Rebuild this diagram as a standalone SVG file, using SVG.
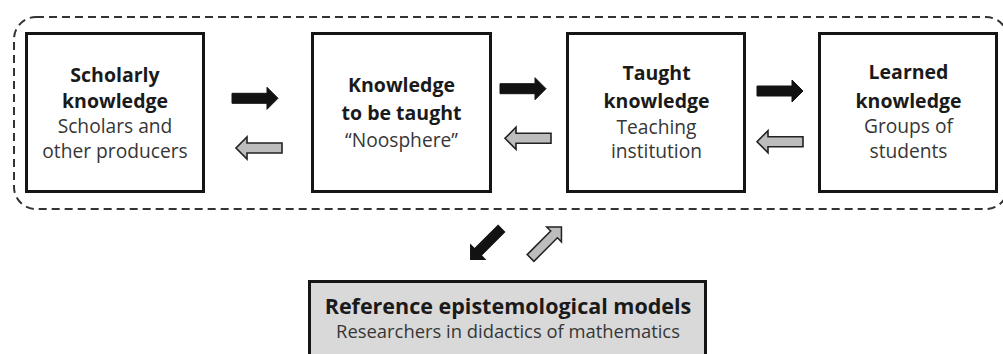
<svg xmlns="http://www.w3.org/2000/svg" xmlns:xlink="http://www.w3.org/1999/xlink" width="1003" height="354" viewBox="0 0 1003 354">
  <style>
    .box { fill: #ffffff; stroke: #151515; stroke-width: 3; }
    .refbox { fill: #d9d9d9; stroke: #151515; stroke-width: 3; }
    .frame { fill: none; stroke: #333333; stroke-width: 2; stroke-dasharray: 8 5; }
    .t { font-family: "Open Sans", "Liberation Sans", sans-serif; text-anchor: middle; }
    .b { font-weight: bold; font-size: 19.5px; fill: #1a1a1a; }
    .r { font-size: 19.2px; fill: #363636; }
    .b2 { font-weight: bold; font-size: 21.5px; fill: #1a1a1a; }
    .r2 { font-size: 18.4px; fill: #363636; }
    .blk { fill: #121212; stroke: #121212; stroke-width: 1; }
    .gry { fill: #bdbdbd; stroke: #222222; stroke-width: 1.6; }
  </style>
  <defs>
    <path id="arrowR" d="M-23,-5 H12 V-11 L23,0 L12,11 V5 H-23 Z"/>
  </defs>
  <rect width="1003" height="354" fill="#ffffff"/>

  <g id="container">
    <rect class="frame" x="14" y="17" width="994" height="192" rx="22" ry="22"/>
  </g>

  <g id="scholarly">
    <rect class="box" x="26.5" y="33.5" width="177" height="158"/>
    <text class="t b" x="115" y="82">Scholarly</text>
    <text class="t b" x="115" y="107.5">knowledge</text>
    <text class="t r" x="115" y="133">Scholars and</text>
    <text class="t r" x="115" y="158">other producers</text>
  </g>

  <g id="to-be-taught">
    <rect class="box" x="312.5" y="33.5" width="178" height="158"/>
    <text class="t b" x="401.5" y="92">Knowledge</text>
    <text class="t b" x="401.5" y="120">to be taught</text>
    <text class="t r" x="401.5" y="146.5">“Noosphere”</text>
  </g>

  <g id="taught">
    <rect class="box" x="567.5" y="33.5" width="177" height="158"/>
    <text class="t b" x="656.5" y="80">Taught</text>
    <text class="t b" x="656.5" y="107.5">knowledge</text>
    <text class="t r" x="656.5" y="133.5">Teaching</text>
    <text class="t r" x="656.5" y="158">institution</text>
  </g>

  <g id="learned">
    <rect class="box" x="819.5" y="33.5" width="177" height="158"/>
    <text class="t b" x="908.5" y="79">Learned</text>
    <text class="t b" x="908.5" y="108">knowledge</text>
    <text class="t r" x="908.5" y="133">Groups of</text>
    <text class="t r" x="908.5" y="158">students</text>
  </g>

  <g id="reference">
    <rect class="refbox" x="309.5" y="281.5" width="396" height="80"/>
    <text class="t b2" x="508" y="314">Reference epistemological models</text>
    <text class="t r2" x="508" y="338">Researchers in didactics of mathematics</text>
  </g>

  <g id="connectors">
    <use xlink:href="#arrowR" class="blk" transform="translate(255,98.3)"/>
    <use xlink:href="#arrowR" class="gry" transform="translate(259,148) rotate(180)"/>
    <use xlink:href="#arrowR" class="blk" transform="translate(523,88.7)"/>
    <use xlink:href="#arrowR" class="gry" transform="translate(528,138.3) rotate(180)"/>
    <use xlink:href="#arrowR" class="blk" transform="translate(780,91)"/>
    <use xlink:href="#arrowR" class="gry" transform="translate(780,141.7) rotate(180)"/>
    <use xlink:href="#arrowR" class="blk" transform="translate(486,244) rotate(135) scale(0.95)"/>
    <use xlink:href="#arrowR" class="gry" transform="translate(546,242.5) rotate(-45) scale(0.95)"/>
  </g>
</svg>
